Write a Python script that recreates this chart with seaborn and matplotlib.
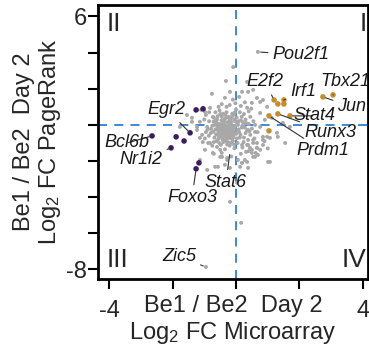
import matplotlib
matplotlib.use('Agg')
import matplotlib.pyplot as plt
import pandas as pd
import seaborn as sns

# log2 FC microarray (x) vs log2 FC PageRank (y), Be1 / Be2 day 2
gray_x = [
    -0.35, -0.28, -0.42, -0.15, -0.50, -0.22, -0.38, -0.10, -0.55, -0.30,
    -0.05, 0.05, -0.18, -0.45, -0.60, -0.65, -0.25, -0.40, -0.12, 0.10,
    0.15, 0.20, -0.08, -0.30, -0.52, 0.00, 0.25, 0.30, -0.70, -0.75,
    -0.80, -0.62, -0.48, -0.20, 0.05, 0.25, 0.35, 0.40, -0.33, -0.26,
    -0.44, -0.36, -0.18, -0.08, -0.02, -0.14, -0.30, -0.46, -0.58, -0.54,
    -0.22, -0.40, -0.32, -0.16, -0.48, -0.27, -0.06, 0.08, 0.12, -0.68,
    -0.85, -0.90, 0.45, 0.50, 0.15, -0.20, -0.45, 0.35, -0.65, 0.55,
    -0.10, 0.10, -0.35, 0.45, -0.75, -0.05, -0.35, 0.20, -0.95, -0.98,
    -0.24, -0.37, -0.12, -0.52, -0.20, -0.42, -0.08, 0.02, -0.60, 0.22,
    -0.30, -0.18, -0.44, -0.10, -0.56, 0.00, -0.34, 0.12, -0.72, 0.30,
    -0.26, -0.14, -0.50, 0.08, -0.40, -0.66, 0.18, -0.04, -0.86, 0.40,
    -0.47, -0.39, -0.29, -0.21, -0.11, -0.57, -0.63, -0.34, -0.49, -0.15,
    0.03, 0.14, 0.28, 0.06, -0.02, -0.24, -0.41, -0.58, -0.71, -0.79,
    -0.36, -0.12, 0.18, 0.32, 0.42, 0.24, -0.06, -0.28, -0.53, -0.70,
    -0.45, -0.31, -0.19, -0.09, -0.37, -0.53, -0.25, -0.43, 0.04, -0.64,
    0.60, 0.68, 0.58, 0.48, 0.28, -0.02, -0.30, -0.55, -0.85, -1.00,
    -0.95, -1.05, 0.90, 1.00, 0.62, 0.15, -0.45, -0.70, -0.15, 0.40,
    -0.32, -0.76, -0.19, 0.19, 0.38, 0.66, 0.76, 0.50, -1.10, -0.82,
    -0.73, -1.14, -1.39, -1.23, -1.07, -0.91, 0.76, 0.91, 0.76, 0.85,
    0.38, 0.66, 0.44, 0.76, 0.19, 0.54, 0.28, 0.06, -0.28, -0.50,
    -0.60, -0.82, -0.98, -0.57, -0.19, 0.13, 0.38, -1.14, -0.91, -0.09,
    0.35, 0.54, 0.85, 0.98, 1.13, 1.48, 1.70, 1.29, 1.07, -1.55,
    -1.39, -1.77, -1.23, -1.14, -0.88, -0.73, -0.50, -0.44, -0.28, 0.35,
    0.54, 0.66, 0.50, 0.19, 1.07, 0.85, -0.66, -0.35, 0.03, -0.98,
    0.38, 0.60, 0.85, 0.98, 0.54, 0.38, 0.50, 0.66, 0.69, 0.60,
    0.35, 0.19, 1.01, 1.55, 1.32, 0.69, -0.95, -0.19, 0.16, 0.32,
]
gray_y = [
    -0.20, -0.45, -0.10, -0.30, -0.35, 0.05, 0.20, -0.55, -0.60, -0.75,
    -0.15, 0.10, 0.35, 0.45, 0.10, -0.25, -0.95, -0.85, -0.80, -0.40,
    0.25, -0.05, 0.55, 0.70, 0.80, 0.85, 0.60, 0.30, 0.40, -0.05,
    -0.45, -0.90, -1.10, -1.15, -1.00, -0.70, -0.30, 0.05, -0.05, -0.30,
    -0.50, -0.62, -0.62, -0.35, -0.05, 0.15, 0.40, 0.25, -0.12, -0.45,
    -0.50, -0.32, -0.40, -0.18, -0.22, 0.15, 0.30, -0.25, -0.70, -0.70,
    0.20, -0.25, 0.45, -0.20, 1.05, 1.10, 1.15, 0.95, 0.70, 0.20,
    1.40, 1.55, 1.50, -0.55, -1.15, -1.30, -1.35, -1.25, 0.55, -0.75,
    -0.12, -0.55, -0.05, 0.05, 0.25, -0.72, -0.68, 0.40, 0.30, 0.15,
    -0.15, -0.40, 0.05, -0.90, -0.78, -0.50, 0.55, 0.70, -0.38, -0.45,
    -0.60, 0.45, 0.60, 0.20, -0.95, 0.00, -0.15, 0.68, -0.60, 0.75,
    -0.15, -0.42, -0.25, -0.72, -0.20, -0.30, -0.52, -0.88, -0.65, -1.00,
    -0.75, -0.55, -0.15, 0.00, 0.20, 0.45, 0.62, 0.48, 0.18, -0.22,
    0.32, 0.62, 0.45, 0.10, -0.35, -0.95, -1.10, -1.08, -1.00, -0.95,
    -0.28, -0.52, -0.08, -0.48, 0.02, -0.18, -0.37, -0.80, -0.30, 0.22,
    0.00, -0.40, -0.75, 0.90, 1.25, 1.20, 1.00, 1.00, 0.70, 0.30,
    -0.40, -0.95, -0.90, -1.30, -1.55, -1.60, -1.55, -1.60, -1.75, -1.45,
    2.43, 1.72, 1.83, 1.83, 1.83, 1.49, 1.27, 1.22, 0.83, 0.94,
    0.44, 0.17, 0.17, -0.28, -0.55, -0.11, 0.66, 0.28, -0.11, -0.66,
    -0.83, -1.00, -1.27, -1.38, -1.11, -1.77, -1.94, -1.94, -1.94, -1.77,
    -1.22, -1.00, -1.38, -2.32, -2.38, -2.32, -2.38, -1.94, -2.49, 3.20,
    2.38, 1.94, 1.38, 1.00, 0.39, 0.11, -0.11, -0.44, -0.72, 0.55,
    0.39, -0.11, -0.11, -0.72, -1.00, -1.55, -1.38, -1.77, -1.83, -1.11,
    -1.00, -1.27, -1.55, -2.10, -2.05, -1.11, -2.32, -2.21, -3.20, 0.72,
    -0.28, -0.39, -0.83, -0.66, -0.83, -1.11, -1.38, -1.27, -1.66, -1.77,
    -2.05, -2.10, -2.05, -1.00, -0.66, 4.04, -7.86, -4.26, -5.42, -1.49,
]
up_x = [1.20, 1.32, 1.51, 1.51, 2.74, 3.06, 1.04, 1.32, 1.70, 1.04]
up_y = [1.38, 1.16, 1.38, 1.16, 1.55, 1.66, 0.50, 0.61, 0.50, -0.33]
down_x = [-1.26, -1.04, -1.45, -1.64, -1.89, -2.65, -2.05, -1.17, -1.26]
down_y = [0.83, 0.89, -0.44, -0.89, -0.66, -0.61, -1.27, -2.10, -2.43]

genes = ["Pou2f1", "E2f2", "Irf1", "Tbx21", "Jun", "Stat4", "Runx3",
         "Prdm1", "Egr2", "Bcl6b", "Nr1i2", "Foxo3", "Stat6", "Zic5"]
gene_x = [0.69, 1.20, 1.51, 3.06, 2.74, 1.70, 1.32, 1.04, -1.45, -2.65,
          -2.05, -1.26, -0.19, -0.95]
gene_y = [4.04, 1.38, 1.38, 1.66, 1.55, 0.50, 0.61, 0.50, -0.44, -0.61,
          -1.27, -2.43, -1.49, -7.86]

# where each gene label sits (data coords)
label_pos = {
    "Pou2f1": (2.05, 3.87), "E2f2": (0.91, 2.38), "Irf1": (2.11, 1.83),
    "Tbx21": (3.44, 2.38), "Jun": (3.66, 1.00), "Stat4": (2.46, 0.50),
    "Runx3": (2.97, -0.44), "Prdm1": (2.75, -1.44), "Egr2": (-2.18, 0.83),
    "Bcl6b": (-3.44, -1.00), "Nr1i2": (-3.00, -1.94), "Foxo3": (-1.39, -4.04),
    "Stat6": (-0.32, -3.20), "Zic5": (-1.80, -7.30),
}

df = pd.concat([
    pd.DataFrame({"x": gray_x, "y": gray_y, "grp": "other"}),
    pd.DataFrame({"x": up_x, "y": up_y, "grp": "up"}),
    pd.DataFrame({"x": down_x, "y": down_y, "grp": "down"}),
], ignore_index=True)

sns.set_style("ticks")
plt.rcParams['font.family'] = ['Liberation Sans', 'DejaVu Sans']
plt.rcParams['mathtext.default'] = 'regular'

fig = plt.figure(figsize=(3.69, 3.51), dpi=100)
ax = fig.add_axes([0.266, 0.205, 0.731, 0.781])

ax.axhline(0, color='#2f7fd0', lw=1.3, ls=(0, (5, 4)), zorder=1)
ax.axvline(0, color='#2f7fd0', lw=1.3, ls=(0, (5, 4)), zorder=1)

palette = {"other": "#a8a8a8", "up": "#c48e2e", "down": "#3a1d5c"}
sizes = {"other": 8, "up": 16, "down": 16}
sns.scatterplot(data=df, x="x", y="y", hue="grp", palette=palette,
                size="grp", sizes=sizes, linewidth=0, legend=False,
                ax=ax, zorder=3)

for g, px, py in zip(genes, gene_x, gene_y):
    tx, ty = label_pos[g]
    ax.annotate(g, xy=(px, py), xytext=(tx, ty), fontsize=13, style='italic',
                ha='center', va='center', color='#1a1a1a',
                arrowprops=dict(arrowstyle='-', lw=0.8, color='#333333',
                                shrinkA=1, shrinkB=2), zorder=4)

ax.text(0.03, 0.975, "II", transform=ax.transAxes, fontsize=19, ha='left', va='top')
ax.text(0.995, 0.975, "I", transform=ax.transAxes, fontsize=19, ha='right', va='top')
ax.text(0.03, 0.025, "III", transform=ax.transAxes, fontsize=19, ha='left', va='bottom')
ax.text(0.995, 0.025, "IV", transform=ax.transAxes, fontsize=19, ha='right', va='bottom')

ax.set_xlim(-4.35, 4.16)
ax.set_ylim(-8.53, 6.64)
ax.set_xticks([-4, -2, 0, 2, 4])
ax.set_xticklabels(["-4", "", "", "", "4"])
ax.set_yticks([6, 4, 2, 0, -2, -4, -6, -8])
ax.set_yticklabels(["6", "", "", "", "", "", "", "-8"])
ax.tick_params(labelsize=17, width=1.5, length=7, pad=1, color='k')
ax.tick_params(axis='x', pad=8)
ax.set_xlabel("Be1 / Be2  Day 2\nLog$_2$ FC Microarray", fontsize=17, labelpad=-19,
              linespacing=1.15)
ax.set_ylabel("Be1 / Be2  Day 2\nLog$_2$ FC PageRank", fontsize=17, labelpad=2,
              linespacing=1.15)
for sp in ax.spines.values():
    sp.set_visible(True)
    sp.set_linewidth(2)
    sp.set_color('k')

fig.savefig("out.png", dpi=100)
